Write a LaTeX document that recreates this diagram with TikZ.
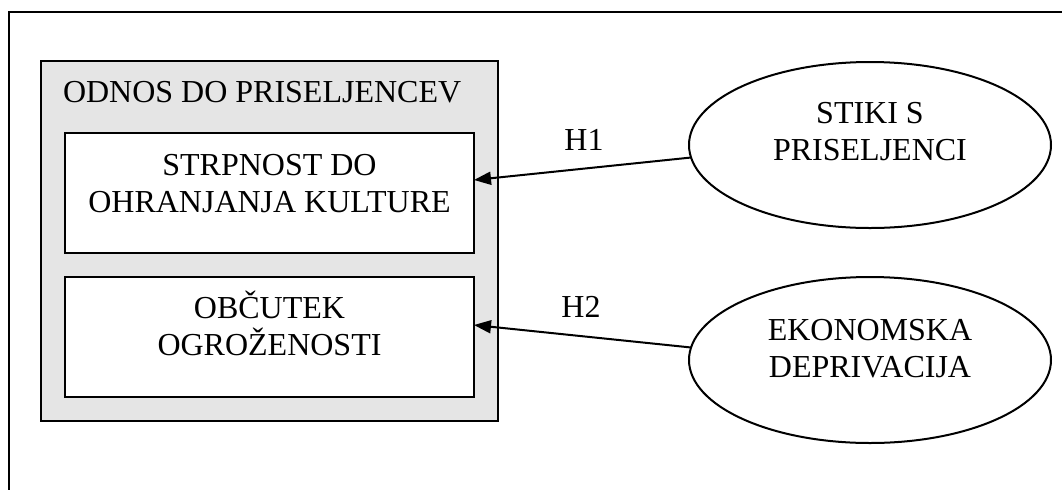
\documentclass[tikz,border=0pt]{standalone}
\usepackage{fontspec}
\setmainfont{Liberation Serif}
\usetikzlibrary{arrows.meta,shapes.geometric}
\begin{document}
\begin{tikzpicture}[x=0.5pt,y=-0.5pt,
  every node/.style={inner sep=0pt,outer sep=0pt,font=\fontsize{16pt}{18.5pt}\selectfont},
  txt/.style={anchor=base,align=center},
  outerbox/.style={draw,line width=1pt,fill=gray!20,minimum width=228.5pt,minimum height=180pt},
  innerbox/.style={draw,line width=1pt,fill=white,minimum width=204.5pt,minimum height=60pt},
  oval/.style={ellipse,draw,line width=1pt,minimum width=181pt,minimum height=83pt},
  arr/.style={line width=1pt,-{Triangle[length=8.5pt,width=6.5pt]}},
  frame/.style={line width=1.2pt}]
\useasboundingbox (0,0) rectangle (1062,489);
% outer frame (open at right and bottom)
\coordinate (frTR) at (1080,12);
\coordinate (frTL) at (9,12);
\coordinate (frBL) at (9,500);
\draw[frame] (frTR) -- (frTL) -- (frBL);
% group box
\node[outerbox] (grp) at (269.5,241) {};
\node[anchor=base west] (grplabel) at (63,102) {ODNOS DO PRISELJENCEV};
\node[innerbox] (b1) at (269.5,193) {};
\node[innerbox] (b2) at (269.5,337) {};
\node[txt] (b1t) at (269.5,212) {STRPNOST DO\\OHRANJANJA KULTURE};
\node[txt] (b2t) at (269.5,355) {OB\v{C}UTEK\\OGRO\v{Z}ENOSTI};
% ellipses
\node[oval] (e1) at (870,145) {};
\node[oval] (e2) at (870,360) {};
\node[txt] (e1t) at (870,160) {STIKI S\\PRISELJENCI};
\node[txt] (e2t) at (870,377) {EKONOMSKA\\DEPRIVACIJA};
% connectors
\draw[arr] (e1.184) -- ([yshift=6.5pt]b1.east);
\draw[arr] (e2.176.5) -- ([yshift=6pt]b2.east);
\node[anchor=base] (h1) at (584,150) {H1};
\node[anchor=base] (h2) at (581,317) {H2};
\end{tikzpicture}
\end{document}
